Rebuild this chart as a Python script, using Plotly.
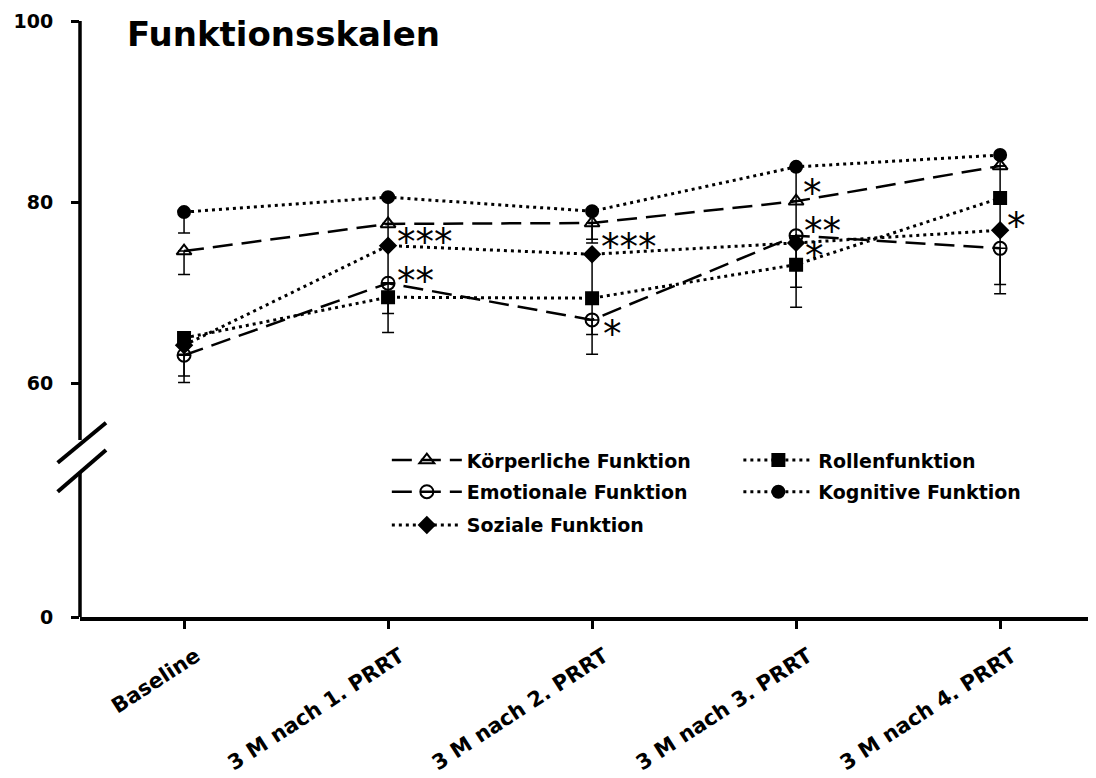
import plotly.graph_objects as go

# ---------------- data ----------------
categories = ["Baseline", "3 M nach 1. PRRT", "3 M nach 2. PRRT",
              "3 M nach 3. PRRT", "3 M nach 4. PRRT"]

koerper = [74.6, 77.6, 77.7, 80.1, 84.0]
koerper_err = [2.6, 2.2, 1.8, 3.8, 3.5]
emotional = [63.1, 71.05, 67.0, 76.3, 74.9]
emotional_err = [3.0, 5.45, 3.8, 5.7, 5.0]
sozial = [64.2, 75.2, 74.25, 75.5, 76.9]
sozial_err = [1.0, 4.1, 4.8, 2.4, 6.0]
rollen = [65.0, 69.5, 69.4, 73.1, 80.45]
rollen_err = [4.2, 1.8, 4.0, 4.7, 3.5]
kognitiv = [78.9, 80.55, 79.0, 83.9, 85.2]
kognitiv_err = [2.3, 2.9, 3.5, 3.8, 1.2]

# significance marks per series and time point
koerper_sig = ["", "", "", "*", ""]
emotional_sig = ["", "**", "*", "**", ""]
sozial_sig = ["", "***", "***", "", "*"]
rollen_sig = ["", "", "", "*", ""]
kognitiv_sig = ["", "", "", "", ""]

y_tick_labels = ["0", "60", "80", "100"]
y_tick_values = [0, 60, 80, 100]

# ---------------- broken axis mapping ----------------
ZERO_POS = 34.2    # axis position at which the value 0 is displayed (axis break)


def axis_pos(v):
    return ZERO_POS if v == 0 else v


FONT = "DejaVu Sans"

fig = go.Figure()

series = [
    ("Körperliche Funktion", koerper, koerper_err, "triangle-up-open", "20px,9px", "legend"),
    ("Rollenfunktion", rollen, rollen_err, "square", "3px,4px", "legend2"),
    ("Emotionale Funktion", emotional, emotional_err, "circle-open", "20px,9px", "legend3"),
    ("Kognitive Funktion", kognitiv, kognitiv_err, "circle", "3px,4px", "legend4"),
    ("Soziale Funktion", sozial, sozial_err, "diamond", "3px,4px", "legend5"),
]

for name, vals, errs, sym, dash, lg in series:
    dotted = dash.startswith("3px")
    fig.add_trace(go.Scatter(
        x=categories, y=vals, name=name, mode="lines+markers",
        line=dict(color="black", width=3 if dotted else 2.5, dash=dash),
        marker=dict(symbol=sym, size=13 if "open" in sym else 12, color="black",
                    line=dict(color="black", width=2)),
        error_y=dict(type="data", symmetric=False, array=[0] * len(vals),
                     arrayminus=errs, color="black", thickness=1.5, width=6),
        legend=lg,
    ))

# legends (one per entry so the 2-column layout can be placed exactly)
leg_common = dict(xanchor="left", yanchor="middle", bgcolor="rgba(0,0,0,0)",
                  font=dict(family=FONT, size=19, color="black", weight="bold"),
                  itemwidth=70)
col_x = [0.302, 0.648]
row_y = [0.263, 0.210, 0.154]
fig.update_layout(
    legend=dict(x=col_x[0], y=row_y[0], **leg_common),
    legend2=dict(x=col_x[1], y=row_y[0], **leg_common),
    legend3=dict(x=col_x[0], y=row_y[1], **leg_common),
    legend4=dict(x=col_x[1], y=row_y[1], **leg_common),
    legend5=dict(x=col_x[0], y=row_y[2], **leg_common),
)

# significance asterisks
sig_offsets = {  # (series, index): (xshift px, yshift px of glyph centre)
    ("koerper", 3): (5, 13),
    ("emotional", 1): (7, 7), ("emotional", 2): (9, -10), ("emotional", 3): (6, 9),
    ("sozial", 1): (7, 8), ("sozial", 2): (7, 12), ("sozial", 4): (5, 9),
    ("rollen", 3): (7, 13),
}
sig_sets = {"koerper": (koerper, koerper_sig), "emotional": (emotional, emotional_sig),
            "sozial": (sozial, sozial_sig), "rollen": (rollen, rollen_sig),
            "kognitiv": (kognitiv, kognitiv_sig)}
GLYPH_COMP = -5
for key, (vals, sigs) in sig_sets.items():
    for i, s in enumerate(sigs):
        if not s:
            continue
        dx, dy = sig_offsets.get((key, i), (6, 8))
        fig.add_annotation(x=categories[i], y=vals[i], text=s, showarrow=False,
                           xanchor="left", yanchor="middle", xshift=dx, yshift=dy + GLYPH_COMP,
                           font=dict(family="DejaVu Sans", size=37, color="black"))

# title
fig.add_annotation(xref="paper", yref="paper", x=0.044, y=0.978, text="Funktionsskalen",
                   showarrow=False, xanchor="left", yanchor="middle",
                   font=dict(family=FONT, size=34, color="black", weight="bold"))

# y axis line with break
BREAK_TOP, BREAK_BOTTOM = 53.74, 50.2
fig.add_shape(type="line", xref="paper", yref="y", x0=0, x1=0, y0=100, y1=BREAK_TOP,
              line=dict(color="black", width=3.5))
fig.add_shape(type="line", xref="paper", yref="y", x0=0, x1=0, y0=BREAK_BOTTOM, y1=ZERO_POS,
              line=dict(color="black", width=3.5))
fig.add_shape(type="line", xref="paper", yref="y", x0=-0.022, x1=0.0256, y0=51.23, y1=55.65,
              line=dict(color="black", width=4))
fig.add_shape(type="line", xref="paper", yref="y", x0=-0.022, x1=0.0256, y0=48.02, y1=52.63,
              line=dict(color="black", width=4))

# page body has an 8px margin: figure is 8px smaller so it fills the 1096x778 window
fig.update_layout(
    width=1088, height=770,
    margin=dict(l=72, r=0, t=13, b=161),
    paper_bgcolor="white", plot_bgcolor="white",
    showlegend=True,
    xaxis=dict(type="category", range=[-0.51, 4.47], showgrid=False, zeroline=False,
               showline=True, linecolor="black", linewidth=3.5,
               ticks="outside", ticklen=8, tickwidth=3, tickcolor="black",
               tickangle=-33, ticklabelshift=12, ticklabelstandoff=7,
               tickfont=dict(family=FONT, size=21, color="black", weight="bold")),
    yaxis=dict(range=[ZERO_POS, 100], showgrid=False, zeroline=False, showline=False,
               tickmode="array", tickvals=[axis_pos(v) for v in y_tick_values],
               ticktext=y_tick_labels,
               ticks="outside", ticklen=8, tickwidth=3, tickcolor="black",
               ticklabelstandoff=14,
               tickfont=dict(family=FONT, size=19, color="black", weight="bold")),
)

fig.write_html("out.html")
